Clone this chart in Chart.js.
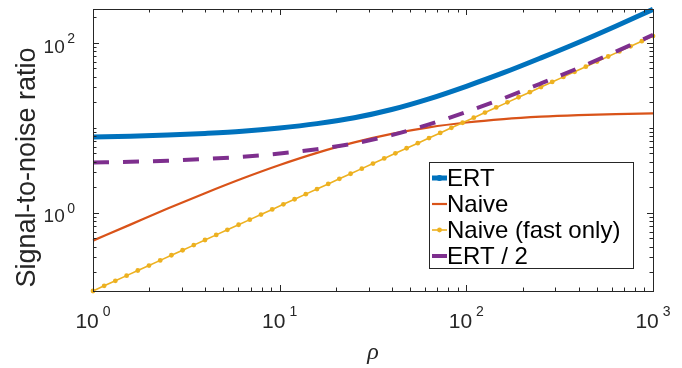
<!DOCTYPE html>
<html>
<head>
<meta charset="utf-8">
<script src="https://cdn.jsdelivr.net/npm/chart.js@4.4.1/dist/chart.umd.min.js"></script>
<style>
  html, body { margin: 0; background: #fff; }
  canvas { display: block; }
</style>
</head>
<body>
<canvas id="chart" width="682" height="368"></canvas>
<script>
// rho grid for the smooth curves (every 0.2 decade)
const rho = [1, 1.585, 2.512, 3.981, 6.31, 10, 15.85, 25.12, 39.81, 63.1, 100, 158.5, 251.2, 398.1, 631, 1000];
const ert = [7.8, 7.95, 8.2, 8.58, 9.1, 9.95, 11.2, 13.1, 16.4, 21.9, 30.8, 44.5, 66.5, 101, 157, 247.6];
const naive = [0.47, 0.725, 1.12, 1.7, 2.53, 3.65, 5.07, 6.73, 8.47, 10.13, 11.54, 12.67, 13.5, 14.08, 14.5, 14.75];
const ertHalf = [3.9, 3.975, 4.1, 4.29, 4.55, 4.975, 5.6, 6.55, 8.2, 10.95, 15.4, 22.25, 33.25, 50.5, 78.5, 123.8];

// marker positions of the "fast only" curve
const rhoFast = [1, 1.148, 1.318, 1.514, 1.738, 1.995, 2.291, 2.63, 3.02, 3.467, 3.981, 4.571, 5.248, 6.026,
  6.918, 7.943, 9.12, 10.47, 12.02, 13.8, 15.85, 18.2, 20.89, 23.99, 27.54, 31.62, 36.31, 41.69, 47.86,
  54.95, 63.1, 72.44, 83.18, 95.5, 109.6, 125.9, 144.5, 166, 190.5, 218.8, 251.2, 288.4, 331.1, 380.2,
  436.5, 501.2, 575.4, 660.7, 758.6, 871, 1000];
const naiveFast = [0.12, 0.138, 0.158, 0.182, 0.209, 0.239, 0.275, 0.316, 0.362, 0.416, 0.478, 0.549, 0.63,
  0.723, 0.83, 0.953, 1.094, 1.256, 1.442, 1.656, 1.902, 2.184, 2.507, 2.879, 3.305, 3.794, 4.357, 5.003,
  5.743, 6.594, 7.572, 8.693, 9.982, 11.46, 13.15, 15.11, 17.34, 19.92, 22.86, 26.26, 30.14, 34.61, 39.73,
  45.62, 52.38, 60.14, 69.05, 79.28, 91.03, 104.5, 120];

const seriesLabels = ["ERT", "Naive", "Naive (fast only)", "ERT / 2"];
const xTicks = [1, 10, 100, 1000];
const xTickExp = ["0", "1", "2", "3"];
const yTicks = [1, 100];
const yTickExp = ["0", "2"];
const xTitle = "\u03c1";
const yTitle = "Signal-to-noise ratio";

const FONT = "'Liberation Sans', Arial, Helvetica, sans-serif";
const AXIS = "#262626";
const BLUE = "#0072BD", RED = "#D95319", YELLOW = "#EDB120", PURPLE = "#7E2F8E";

function pts(xs, ys) { return xs.map((x, i) => ({ x, y: ys[i] })); }

function drawPow(ctx, base, exp, x, y, align, size, expSize, gap, raise) {
  ctx.font = `${size}px ${FONT}`;
  const w1 = ctx.measureText(base).width;
  ctx.font = `${expSize}px ${FONT}`;
  const w2 = ctx.measureText(exp).width;
  const total = w1 + gap + w2;
  const start = align === "center" ? x - total / 2 : x - total;
  ctx.textAlign = "left";
  ctx.textBaseline = "alphabetic";
  ctx.font = `${size}px ${FONT}`;
  ctx.fillText(base, start, y);
  ctx.font = `${expSize}px ${FONT}`;
  ctx.fillText(exp, start + w1 + gap, y - raise);
}

const axesPlugin = {
  id: "matlabAxes",
  afterDraw(chart) {
    const ctx = chart.ctx;
    const a = chart.chartArea;
    const xs = chart.scales.x, ys = chart.scales.y;
    ctx.save();
    ctx.strokeStyle = AXIS;
    ctx.fillStyle = AXIS;
    ctx.lineWidth = 1;

    // box
    ctx.strokeRect(Math.round(a.left) + 0.5, Math.round(a.top) + 0.5,
      Math.round(a.right - a.left), Math.round(a.bottom - a.top));

    // x ticks, inside on bottom and top
    ctx.beginPath();
    for (let d = 1; d <= 1000; d *= 10) {
      for (let m = 1; m <= 9; m++) {
        const v = d * m;
        if (v > 1000) break;
        const px = Math.round(xs.getPixelForValue(v)) + 0.5;
        const len = m === 1 ? 6 : 3.5;
        ctx.moveTo(px, a.bottom); ctx.lineTo(px, a.bottom - len);
        ctx.moveTo(px, a.top); ctx.lineTo(px, a.top + len);
      }
    }
    // y ticks, inside on left and right
    for (let d = 0.1; d <= 100; d *= 10) {
      for (let m = 1; m <= 9; m++) {
        const v = d * m;
        if (v < ys.min || v > ys.max) continue;
        const py = Math.round(ys.getPixelForValue(v)) + 0.5;
        const major = m === 1 && yTicks.some((t) => Math.abs(t - v) < 1e-9);
        const len = major ? 6 : 3.5;
        ctx.moveTo(a.left, py); ctx.lineTo(a.left + len, py);
        ctx.moveTo(a.right, py); ctx.lineTo(a.right - len, py);
      }
    }
    ctx.stroke();

    // tick labels
    ctx.fillStyle = "#262626";
    xTicks.forEach((t, i) => {
      drawPow(ctx, "10", xTickExp[i], xs.getPixelForValue(t), 328, "center", 21, 14, 4, 12.5);
    });
    yTicks.forEach((t, i) => {
      const py = ys.getPixelForValue(t);
      drawPow(ctx, "10", yTickExp[i], a.left - 18, py + 9.7, "right", 19, 14, 2.5, 9.5);
    });

    // axis titles
    ctx.font = `italic 24px 'Liberation Serif', 'DejaVu Serif', serif`;
    ctx.textAlign = "center";
    ctx.textBaseline = "alphabetic";
    ctx.fillText(xTitle, 373, 359);

    ctx.save();
    ctx.translate(35, 167.5);
    ctx.rotate(-Math.PI / 2);
    ctx.font = `27px ${FONT}`;
    ctx.textAlign = "center";
    ctx.textBaseline = "alphabetic";
    ctx.fillText(yTitle, 0, 0);
    ctx.restore();

    // legend
    const lx = 429.5, ly = 162.5, lw = 204, lh = 106;
    ctx.fillStyle = "#fff";
    ctx.fillRect(lx, ly, lw, lh);
    ctx.strokeStyle = AXIS;
    ctx.lineWidth = 1;
    ctx.strokeRect(lx, ly, lw, lh);
    const rows = [178, 204, 230, 256];
    chart.data.datasets.forEach((ds, i) => {
      const y = rows[i];
      ctx.strokeStyle = ds.borderColor;
      ctx.lineWidth = ds.borderWidth;
      ctx.setLineDash([]);
      ctx.lineCap = "butt";
      ctx.beginPath();
      ctx.moveTo(432, y); ctx.lineTo(447, y);
      ctx.stroke();
      if (ds.legendMarker) {
        ctx.fillStyle = ds.borderColor;
        ctx.beginPath();
        ctx.arc(439.5, y, ds.legendMarker, 0, Math.PI * 2);
        ctx.fill();
      }
      ctx.fillStyle = "#000";
      ctx.font = `24px ${FONT}`;
      ctx.textAlign = "left";
      ctx.textBaseline = "middle";
      ctx.fillText(ds.label, 447, y + 1);
    });
    ctx.restore();
  }
};

new Chart(document.getElementById("chart"), {
  type: "line",
  data: {
    datasets: [
      { label: seriesLabels[0], data: pts(rho, ert), borderColor: BLUE, backgroundColor: BLUE,
        borderWidth: 5, pointRadius: 0, cubicInterpolationMode: "monotone", order: 4, clip: false,
        legendMarker: 3 },
      { label: seriesLabels[1], data: pts(rho, naive), borderColor: RED, backgroundColor: RED,
        borderWidth: 2.2, pointRadius: 0, cubicInterpolationMode: "monotone", order: 3, clip: false },
      { label: seriesLabels[2], data: pts(rhoFast, naiveFast), borderColor: YELLOW, backgroundColor: YELLOW,
        borderWidth: 1.6, pointRadius: 2.4, pointBorderWidth: 0, pointBackgroundColor: YELLOW,
        tension: 0, order: 2, clip: false, legendMarker: 2.4 },
      { label: seriesLabels[3], data: pts(rho, ertHalf), borderColor: PURPLE, backgroundColor: PURPLE,
        borderWidth: 4, borderDash: [16, 14], pointRadius: 0, cubicInterpolationMode: "monotone",
        order: 1, clip: false }
    ]
  },
  options: {
    responsive: false,
    animation: false,
    devicePixelRatio: 1,
    layout: { padding: { left: 93, right: 29, top: 9, bottom: 77 } },
    plugins: { legend: { display: false }, tooltip: { enabled: false } },
    scales: {
      x: { type: "logarithmic", min: 1, max: 1000, display: false },
      y: { type: "logarithmic", min: 0.12, max: 250, display: false }
    }
  },
  plugins: [axesPlugin]
});
</script>
</body>
</html>
